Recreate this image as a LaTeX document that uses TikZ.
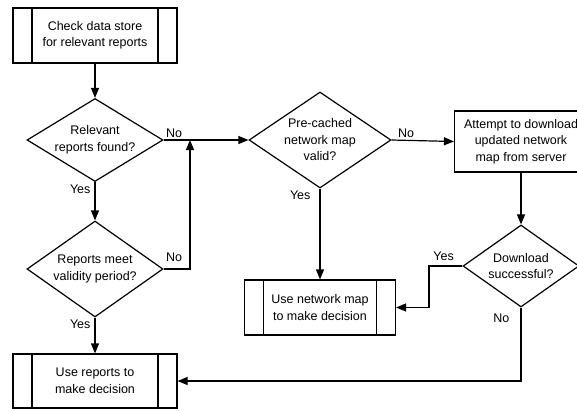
\documentclass[tikz,border=0pt]{standalone}
\usepackage{fontspec}
\setmainfont{Liberation Sans}
\usetikzlibrary{shapes.geometric,arrows.meta}

\begin{document}
\begin{tikzpicture}[x=1pt,y=-1pt,line width=1.2pt,
    font=\fontsize{12.5}{16.5}\selectfont,
    box/.style={draw, align=center, minimum height=55pt, inner sep=0pt},
    subproc/.style={box, path picture={
        \draw ([xshift=19pt]path picture bounding box.north west) -- ([xshift=19pt]path picture bounding box.south west);
        \draw ([xshift=-19pt]path picture bounding box.north east) -- ([xshift=-19pt]path picture bounding box.south east);}},
    decision/.style={draw, diamond, inner sep=0pt},
    flow/.style={-{Triangle[length=10pt,width=8pt]}},
    lbl/.style={inner sep=2pt}]
  \clip (0,0) rectangle (577,410);

  % Left column
  \node[subproc, minimum width=164pt] (check) at (95,35.5) {Check data store\\for relevant reports};
  \node[decision, minimum width=136pt, minimum height=83pt,
        label={[align=center]center:Relevant\\reports found?}] (found) at (95,140) {};
  \node[decision, minimum width=136pt, minimum height=96pt,
        label={[align=center]center:Reports meet\\validity period?}] (valid) at (95,269) {};
  \node[subproc, minimum width=164pt, minimum height=54pt] (usereports) at (95,381) {Use reports to\\make decision};

  % Network map branch
  \node[decision, minimum width=142pt, minimum height=96pt,
        label={[align=center]center:Pre-cached\\network map\\valid?}] (cached) at (320,140) {};
  \node[subproc, minimum width=151pt] (usemap) at (320,307.5) {Use network map\\to make decision};
  \node[box, minimum width=133pt, minimum height=61pt] (download) at (521,141.5) {Attempt to download\\updated network\\map from server};
  \node[decision, minimum width=116pt, minimum height=82pt,
        label={[align=center]center:Download\\successful?}] (success) at (521,266) {};

  \coordinate (merge) at (190,140);
  \coordinate (bend) at (429,266);

  % Connectors
  \draw[flow] (check) -- (found);
  \draw[flow] (found.east) -- node[lbl, anchor=south west, pos=0] {No} (cached.west);
  \draw[flow] (found.south) -- node[lbl, anchor=north east, pos=0, xshift=-2pt] {Yes} (valid.north);
  \draw[flow] (valid.east) -| node[lbl, anchor=south west, pos=0, yshift=5pt] {No} (merge);
  \draw[flow] (valid.south) -- node[lbl, anchor=north east, pos=0, xshift=-2pt] {Yes} (usereports.north);
  \draw[flow] (cached.east) -- node[lbl, anchor=south west, pos=0, xshift=4pt] {No} (download.west);
  \draw[flow] (cached.south) -- node[lbl, anchor=north east, pos=0, xshift=-7pt] {Yes} (usemap.north);
  \draw[flow] (download.south) -- (success.north);
  \draw[flow] (success.west) -- node[lbl, anchor=south east, pos=0, xshift=-6pt, yshift=3pt] {Yes} (bend) |- (usemap.east);
  \draw[flow] (success.south) |- node[lbl, anchor=north east, pos=0, xshift=-9pt, yshift=-4pt] {No} (usereports.east);
\end{tikzpicture}
\end{document}
